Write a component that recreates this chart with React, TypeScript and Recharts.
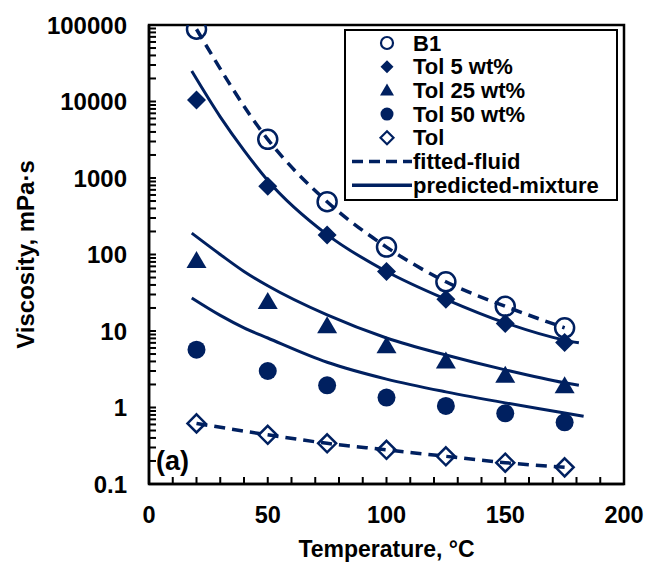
import React from "react";
import {
  ComposedChart,
  Scatter,
  Line,
  XAxis,
  YAxis,
  ReferenceArea,
  Label,
} from "recharts";

const NAVY = "#002060";
const FONT = "'Liberation Sans', Arial, sans-serif";

// Measured temperatures (°C) and viscosities (mPa·s)
const temps = [20, 50, 75, 100, 125, 150, 175];
const b1 = [88000, 3200, 490, 125, 44, 21, 11];
const tol5 = [10500, 780, 180, 60, 26, 12.5, 7.1];
const tol25 = [82, 24, 11.5, 6.3, 4.0, 2.6, 1.9];
const tol50 = [5.7, 3.0, 1.95, 1.35, 1.05, 0.84, 0.64];
const tol = [0.62, 0.44, 0.34, 0.28, 0.23, 0.19, 0.165];

// Predicted mixture viscosity curves
const predTemps = [18, 30, 40, 50, 75, 100, 125, 150, 175, 181];
const pred5 = [25000, 6300, 2300, 930, 182, 60, 26, 12.8, 7.6, 7.0];
const pred25 = [190, 100, 60, 39, 16.2, 8.1, 4.85, 3.1, 2.1, 1.95];
const pred50Temps = [18, 30, 40, 50, 75, 100, 125, 150, 175, 183];
const pred50 = [27, 16, 11, 8.1, 3.9, 2.35, 1.6, 1.15, 0.85, 0.77];

const xTicks = [0, 10, 20, 30, 40, 50, 60, 70, 80, 90, 100, 110, 120, 130, 140, 150, 160, 170, 180, 190, 200];
const xLabels = [0, 50, 100, 150, 200];
const yDecades = [0.1, 1, 10, 100, 1000, 10000, 100000];

// decade ticks plus the 2..9 minor ticks in between
const yTicks: number[] = [];
yDecades.forEach((d, i) => {
  if (i === yDecades.length - 1) {
    yTicks.push(d);
    return;
  }
  for (let m = 1; m <= 9; m++) yTicks.push(d * m);
});

const pts = (ys: number[]) => temps.map((t, i) => ({ t, v: ys[i] }));
const curve = (ts: number[], ys: number[]) => ts.map((t, i) => ({ t, v: ys[i] }));

const OpenCircle = (p: any) => (
  <circle cx={p.cx} cy={p.cy} r={9.5} fill="none" stroke={NAVY} strokeWidth={2.5} />
);
const FilledDiamond = (p: any) => (
  <path d={`M${p.cx},${p.cy - 9.5} L${p.cx + 9.5},${p.cy} L${p.cx},${p.cy + 9.5} L${p.cx - 9.5},${p.cy} Z`} fill={NAVY} />
);
const Triangle = (p: any) => (
  <path d={`M${p.cx},${p.cy - 10} L${p.cx + 10},${p.cy + 7} L${p.cx - 10},${p.cy + 7} Z`} fill={NAVY} />
);
const FilledCircle = (p: any) => <circle cx={p.cx} cy={p.cy} r={9} fill={NAVY} />;
const OpenDiamond = (p: any) => (
  <path
    d={`M${p.cx},${p.cy - 9} L${p.cx + 9},${p.cy} L${p.cx},${p.cy + 9} L${p.cx - 9},${p.cy} Z`}
    fill="none"
    stroke={NAVY}
    strokeWidth={2.5}
  />
);

// inward tick marks, labels only on the major values
const XTick = ({ x, y, payload }: any) => (
  <g>
    <rect x={x - 1} y={y - 7} width={2} height={7} fill="#000" />
    {xLabels.includes(payload.value) && (
      <text x={x} y={y + 39} textAnchor="middle" fontFamily={FONT} fontWeight="bold" fontSize={23.5} fill="#000">
        {payload.value}
      </text>
    )}
  </g>
);

const YTick = ({ x, y, payload }: any) => (
  <g>
    <rect x={x} y={y - 1} width={7} height={2} fill="#000" />
    {yDecades.includes(payload.value) && (
      <text x={x - 22} y={y + 8.5} textAnchor="end" fontFamily={FONT} fontWeight="bold" fontSize={24} fill="#000">
        {payload.value}
      </text>
    )}
  </g>
);

const legendRows = [
  { label: "B1", kind: "openCircle" },
  { label: "Tol 5 wt%", kind: "diamond" },
  { label: "Tol 25 wt%", kind: "triangle" },
  { label: "Tol 50 wt%", kind: "circle" },
  { label: "Tol", kind: "openDiamond" },
  { label: "fitted-fluid", kind: "dash" },
  { label: "predicted-mixture", kind: "solid" },
];

// legend coordinates are local to the legend box (box corner at 345, 30)
function LegendMark({ kind, cx, cy }: { kind: string; cx: number; cy: number }) {
  switch (kind) {
    case "openCircle":
      return <circle cx={cx} cy={cy} r={6} fill="none" stroke={NAVY} strokeWidth={2.2} />;
    case "diamond":
      return <path d={`M${cx},${cy - 6.5} L${cx + 6.5},${cy} L${cx},${cy + 6.5} L${cx - 6.5},${cy} Z`} fill={NAVY} />;
    case "triangle":
      return <path d={`M${cx},${cy - 7} L${cx + 7},${cy + 5} L${cx - 7},${cy + 5} Z`} fill={NAVY} />;
    case "circle":
      return <circle cx={cx} cy={cy} r={6.5} fill={NAVY} />;
    case "openDiamond":
      return (
        <path
          d={`M${cx},${cy - 6.5} L${cx + 6.5},${cy} L${cx},${cy + 6.5} L${cx - 6.5},${cy} Z`}
          fill="none"
          stroke={NAVY}
          strokeWidth={2.2}
        />
      );
    case "dash":
      return <line x1={8} y1={cy} x2={68} y2={cy} stroke={NAVY} strokeWidth={3.5} strokeDasharray="11 6" />;
    default:
      return <line x1={8} y1={cy} x2={68} y2={cy} stroke={NAVY} strokeWidth={3.5} />;
  }
}

function LegendBox() {
  return (
    <div style={{ position: "absolute", left: 344, top: 29, width: 274, height: 172 }}>
      <svg width={274} height={172}>
        <rect x={1} y={1} width={272} height={170} fill="#fff" stroke="#000" strokeWidth={2} />
        {legendRows.map((r, i) => {
          const cy = 14 + i * 23.7;
          return (
            <g key={r.label}>
              <LegendMark kind={r.kind} cx={43} cy={cy} />
              <text x={69} y={cy + 7.5} fontFamily={FONT} fontWeight="bold" fontSize={22} fill="#000">
                {r.label}
              </text>
            </g>
          );
        })}
      </svg>
    </div>
  );
}

export default function App() {
  return (
    <div style={{ position: "absolute", left: 0, top: 0, width: 649, height: 565, background: "#fff" }}>
      <ComposedChart width={649} height={565} margin={{ top: 25, right: 25, bottom: 0, left: 0 }}>
        <ReferenceArea x1={0} x2={200} y1={0.1} y2={100000} fill="none" fillOpacity={0} stroke="#000" strokeWidth={2.5} />
        <XAxis
          dataKey="t"
          type="number"
          domain={[0, 200]}
          ticks={xTicks}
          interval={0}
          height={81}
          tickSize={0}
          tickMargin={0}
          tickLine={false}
          tick={<XTick />}
          axisLine={{ stroke: "#000", strokeWidth: 2.5 }}
        >
          <Label
            content={({ viewBox }: any) => (
              <text
                x={viewBox.x + viewBox.width / 2}
                y={557}
                textAnchor="middle"
                fontFamily={FONT}
                fontWeight="bold"
                fontSize={23}
                fill="#000"
              >
                Temperature, °C
              </text>
            )}
          />
        </XAxis>
        <YAxis
          dataKey="v"
          type="number"
          scale="log"
          domain={[0.1, 100000]}
          allowDataOverflow
          ticks={yTicks}
          interval={0}
          width={149}
          tickSize={0}
          tickMargin={0}
          tickLine={false}
          tick={<YTick />}
          axisLine={{ stroke: "#000", strokeWidth: 2.5 }}
        >
          <Label
            content={({ viewBox }: any) => {
              const cy = viewBox.y + viewBox.height / 2;
              return (
                <text
                  x={34}
                  y={cy}
                  transform={`rotate(-90, 34, ${cy})`}
                  textAnchor="middle"
                  fontFamily={FONT}
                  fontWeight="bold"
                  fontSize={24}
                  fill="#000"
                >
                  Viscosity, mPa·s
                </text>
              );
            }}
          />
        </YAxis>

        <Line data={pts(b1)} dataKey="v" type="monotone" stroke={NAVY} strokeWidth={3.5} strokeDasharray="11 7" dot={false} activeDot={false} isAnimationActive={false} />
        <Line data={pts(tol)} dataKey="v" type="monotone" stroke={NAVY} strokeWidth={3.5} strokeDasharray="11 7" dot={false} activeDot={false} isAnimationActive={false} />
        <Line data={curve(predTemps, pred5)} dataKey="v" type="monotone" stroke={NAVY} strokeWidth={3} dot={false} activeDot={false} isAnimationActive={false} />
        <Line data={curve(predTemps, pred25)} dataKey="v" type="monotone" stroke={NAVY} strokeWidth={3} dot={false} activeDot={false} isAnimationActive={false} />
        <Line data={curve(pred50Temps, pred50)} dataKey="v" type="monotone" stroke={NAVY} strokeWidth={3} dot={false} activeDot={false} isAnimationActive={false} />

        <Scatter data={pts(b1)} dataKey="v" shape={OpenCircle} isAnimationActive={false} />
        <Scatter data={pts(tol5)} dataKey="v" shape={FilledDiamond} isAnimationActive={false} />
        <Scatter data={pts(tol25)} dataKey="v" shape={Triangle} isAnimationActive={false} />
        <Scatter data={pts(tol50)} dataKey="v" shape={FilledCircle} isAnimationActive={false} />
        <Scatter data={pts(tol)} dataKey="v" shape={OpenDiamond} isAnimationActive={false} />
      </ComposedChart>

      <LegendBox />
      <div
        style={{
          position: "absolute",
          left: 156,
          top: 444,
          fontFamily: FONT,
          fontWeight: "bold",
          fontSize: 27,
          lineHeight: "34px",
          color: "#000",
        }}
      >
        (a)
      </div>
    </div>
  );
}
